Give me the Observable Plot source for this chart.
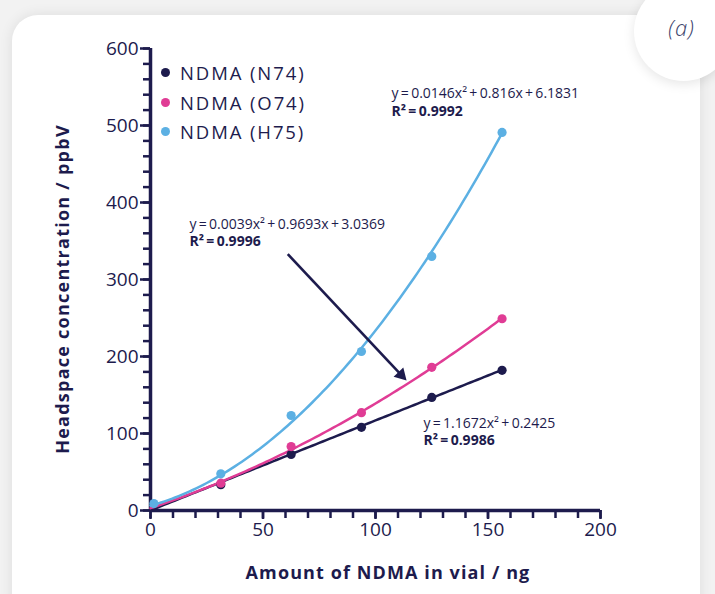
<!DOCTYPE html>
<html><head><meta charset="utf-8">
<script src="https://cdn.jsdelivr.net/npm/d3@7"></script>
<script src="https://cdn.jsdelivr.net/npm/@observablehq/plot@0.6"></script>
<style>
html,body{margin:0;padding:0;width:715px;height:594px;overflow:hidden;background:#f2f2f2;font-family:"Open Sans",sans-serif;color:#1d1b4d;}
#card{position:absolute;left:12px;top:15px;width:688px;height:610px;background:#fff;border-radius:26px;box-shadow:0 0 14px rgba(0,0,0,0.09);}
#badge{position:absolute;left:634px;top:-18px;width:99px;height:99px;border-radius:50%;background:#fff;box-shadow:0 3px 12px rgba(0,0,0,0.10);}
#badge span{position:absolute;left:0;right:4px;top:30px;text-align:center;font-style:italic;font-size:22px;font-weight:300;color:#3b3f6b;font-family:"Open Sans",sans-serif;letter-spacing:1px;}
#chart{position:absolute;left:0;top:0;}
#legend{position:absolute;left:161px;top:58px;}
.li{display:flex;align-items:center;height:29.5px;font-size:18.5px;letter-spacing:1.9px;}
.li i{display:inline-block;width:9px;height:9px;border-radius:50%;margin-right:10px;}
.ttl{position:absolute;font-weight:700;font-size:18px;white-space:nowrap;}
#xt{left:388px;top:572px;transform:translate(-50%,-50%);letter-spacing:1.1px;}
#yt{left:62px;top:289px;transform:translate(-50%,-50%) rotate(-90deg);letter-spacing:1.25px;}
</style></head>
<body>
<div id="card"></div>
<div id="badge"><span>(a)</span></div>
<div id="chart"></div>
<div id="legend"></div>
<div class="ttl" id="xt">Amount of NDMA in vial / ng</div>
<div class="ttl" id="yt">Headspace concentration / ppbV</div>
<script>
// ---- data ----
const seriesNames = ["NDMA (N74)", "NDMA (O74)", "NDMA (H75)"];
const seriesColors = ["#1d1b4d", "#e03c95", "#5cb0e3"];
const amountN74 = [31.25, 62.5, 93.75, 125, 156.25];
const concN74 = [33.5, 72.7, 108, 146.8, 182];
const amountO74 = [31.25, 62.5, 93.75, 125, 156.25];
const concO74 = [35.5, 83, 127, 186, 249];
const amountH75 = [1.5, 31.25, 62.5, 93.75, 125, 156.25];
const concH75 = [9, 47.6, 123.4, 206.5, 330, 491];
// fitted trendline coefficients [a, b, c] for y = a x² + b x + c
const fitN74 = [0, 1.1672, 0.2425];
const fitO74 = [0.0039, 0.9693, 3.0369];
const fitH75 = [0.0146, 0.816, 6.1831];
const eqTexts = ["y\u2009=\u20091.1672x²\u2009+\u20090.2425", "y\u2009=\u20090.0039x²\u2009+\u20090.9693x\u2009+\u20093.0369", "y\u2009=\u20090.0146x²\u2009+\u20090.816x\u2009+\u20096.1831"];
const r2Texts = ["R²\u2009=\u20090.9986", "R²\u2009=\u20090.9996", "R²\u2009=\u20090.9992"];
const xTicks = [0, 50, 100, 150, 200];
const yTicks = [0, 100, 200, 300, 400, 500, 600];

// ---- build tables ----
const amounts = [amountN74, amountO74, amountH75];
const concs = [concN74, concO74, concH75];
const fits = [fitN74, fitO74, fitH75];
const points = seriesNames.flatMap((s, i) => amounts[i].map((a, j) => ({series: s, x: a, y: concs[i][j]})));
const fitLines = seriesNames.flatMap((s, i) => {
  const [a, b, c] = fits[i];
  const xmax = d3.max(amounts[i]);
  return d3.range(0, 101).map(k => { const x = xmax * k / 100; return {series: s, x, y: a * x * x + b * x + c}; });
});
const color = {domain: seriesNames, range: seriesColors};
const navy = seriesColors[0];

// annotation anchors (data space)
const notes = [
  {x: 121.3, y: 113, eq: eqTexts[0], r2: r2Texts[0]},
  {x: 17.3, y: 371.5, eq: eqTexts[1], r2: r2Texts[1]},
  {x: 107.1, y: 541.5, eq: eqTexts[2], r2: r2Texts[2]}
];
const pointer = [{x1: 61, y1: 333, x2: 111.4, y2: 176.1, angle: 136}];

const chart = Plot.plot({
  width: 715, height: 594,
  marginLeft: 150, marginRight: 115, marginTop: 48, marginBottom: 84,
  style: {background: "transparent", fontFamily: "Open Sans, sans-serif", color: navy, overflow: "visible"},
  x: {domain: [0, 200]},
  y: {domain: [0, 600]},
  color,
  marks: [
    Plot.axisY({ticks: d3.range(0, 601, 20), tickSize: 7, tickFormat: () => "", stroke: navy, strokeWidth: 2.5, strokeOpacity: 1, label: null}),
    Plot.axisY({ticks: yTicks, tickSize: 10, tickPadding: 2, fontSize: 19, stroke: navy, strokeWidth: 2.5, strokeOpacity: 1, fill: navy, label: null, style: {letterSpacing: "1.6px"}}),
    Plot.axisX({ticks: d3.range(0, 201, 10), tickSize: 8, tickFormat: () => "", stroke: navy, strokeWidth: 2.5, strokeOpacity: 1, label: null}),
    Plot.axisX({ticks: xTicks, tickSize: 9, tickPadding: 3, fontSize: 19, stroke: navy, strokeWidth: 2.5, strokeOpacity: 1, fill: navy, label: null, style: {letterSpacing: "1.6px"}}),
    Plot.ruleX([0], {stroke: navy, strokeWidth: 3.5, y1: 0, y2: 600}),
    Plot.ruleY([0], {stroke: navy, strokeWidth: 3.5, x1: 0, x2: 200}),
    Plot.line(fitLines, {x: "x", y: "y", z: "series", stroke: "series", strokeWidth: 2.5, curve: "linear"}),
    Plot.dot(points, {x: "x", y: "y", fill: "series", r: 4.6}),
    Plot.link(pointer, {x1: "x1", y1: "y1", x2: "x2", y2: "y2", stroke: navy, strokeWidth: 2.6}),
    Plot.dot(pointer, {x: "x2", y: "y2", symbol: "triangle", r: 5, fill: navy, rotate: "angle"}),
    Plot.text(notes, {x: "x", y: "y", text: "eq", textAnchor: "start", fill: navy, fontSize: 14, style: {letterSpacing: "-0.15px"}}),
    Plot.text(notes, {x: "x", y: "y", text: "r2", dy: 17.5, textAnchor: "start", fill: navy, fontSize: 14, fontWeight: 700, style: {letterSpacing: "-0.2px"}})
  ]
});
document.getElementById("chart").appendChild(chart);

const legend = d3.select("#legend");
seriesNames.forEach((s, i) => {
  const row = legend.append("div").attr("class", "li");
  row.append("i").style("background", seriesColors[i]);
  row.append("span").text(s);
});
</script>
</body></html>
